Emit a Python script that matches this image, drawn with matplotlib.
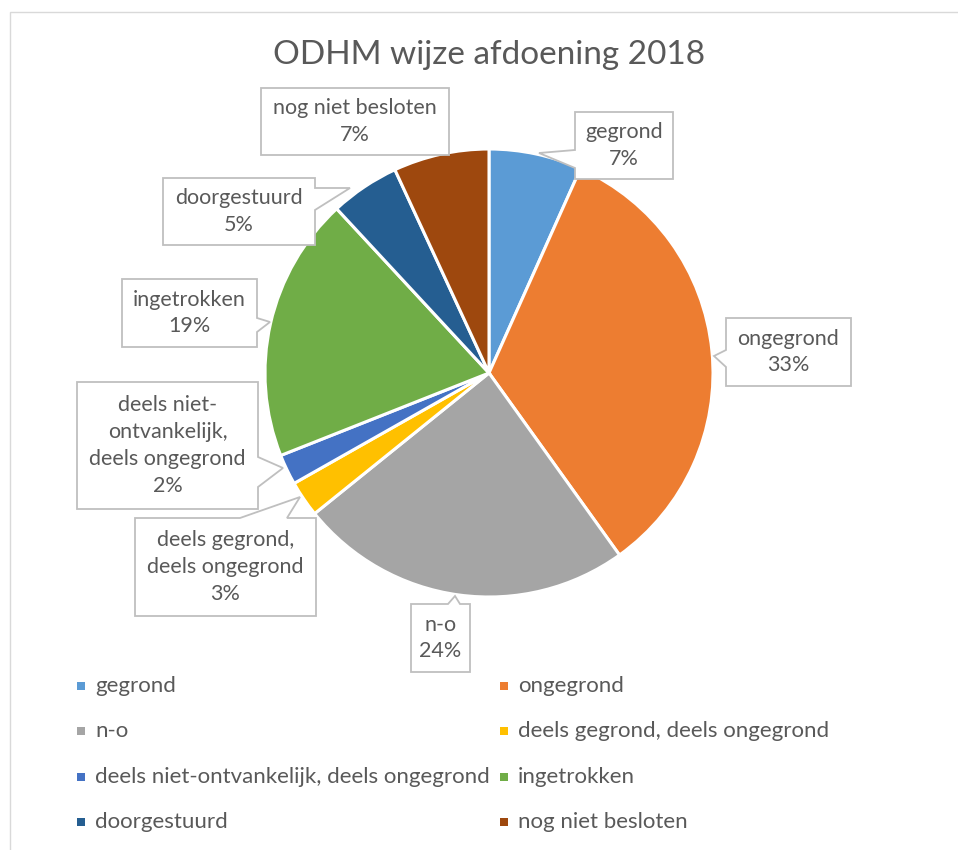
# Pie chart: ODHM wijze afdoening 2018

import matplotlib
matplotlib.use("Agg")
import matplotlib.pyplot as plt
from matplotlib.patches import Polygon, Rectangle

# data (share in percent)
categories = ['gegrond', 'ongegrond', 'n-o', 'deels gegrond, deels ongegrond',
              'deels niet-ontvankelijk, deels ongegrond', 'ingetrokken',
              'doorgestuurd', 'nog niet besloten']
label_names = ['gegrond', 'ongegrond', 'n-o', 'deels gegrond,\ndeels ongegrond',
               'deels niet-\nontvankelijk,\ndeels ongegrond', 'ingetrokken',
               'doorgestuurd', 'nog niet besloten']
values = [6.7, 33.4, 24.1, 2.6, 2.2, 19.1, 5.0, 6.9]
colors = ['#5B9BD5', '#ED7D31', '#A5A5A5', '#FFC000',
          '#4472C4', '#70AD47', '#255E91', '#9E480E']

W, H = 958, 850
TXT = '#595959'
EDGE = '#BFBFBF'
FONT = ['Lato', 'DejaVu Sans']


def py(y):
    # picture y (from top) to axes y (from bottom)
    return H - y


# callout boxes: (left, top, right, bottom, side, base1, base2, tip)
# side tells which edge the pointer leaves from
callouts = [
    (575, 112, 673, 179, 'left', 150, 168, (539, 153)),
    (726, 318, 851, 386, 'left', 350, 367, (714, 356)),
    (411, 604, 470, 672, 'top', 448, 460, (455, 596)),
    (135, 518, 316, 616, 'top', 240, 287, (300, 497)),
    (77, 382, 258, 509, 'right', 457, 487, (283, 468)),
    (122, 279, 257, 347, 'right', 318, 332, (270, 322)),
    (163, 178, 315, 245, 'right', 188, 210, (350, 188)),
    (261, 88, 449, 155, None, 0, 0, None),
]


def callout_polygon(box):
    x0, y0, x1, y1, side, b1, b2, tip = box
    pts = [(x0, y0)]
    if side == 'top':
        pts += [(b1, y0), tip, (b2, y0)]
    pts.append((x1, y0))
    if side == 'right':
        pts += [(x1, b1), tip, (x1, b2)]
    pts.append((x1, y1))
    pts.append((x0, y1))
    if side == 'left':
        pts += [(x0, b2), tip, (x0, b1)]
    return [(x, py(y)) for x, y in pts]


def main():
    fig = plt.figure(figsize=(W / 100, H / 100), dpi=100)
    ax = fig.add_axes([0, 0, 1, 1])

    # chart frame
    ax.add_patch(Rectangle((10, py(H + 20)), W + 20, H + 8, fill=False,
                           edgecolor='#D9D9D9', linewidth=1.0))

    ax.text(489, py(55), 'ODHM wijze afdoening 2018', ha='center', va='center',
            fontsize=24, color=TXT, family=FONT)

    ax.pie(values, colors=colors, startangle=90, counterclock=False,
           center=(489, py(373)), radius=224, frame=True,
           wedgeprops={'edgecolor': 'white', 'linewidth': 2.2})
    ax.set_xlim(0, W)
    ax.set_ylim(0, H)
    ax.set_aspect('equal')
    ax.axis('off')

    for name, v, box in zip(label_names, values, callouts):
        ax.add_patch(Polygon(callout_polygon(box), closed=True, facecolor='white',
                             edgecolor=EDGE, linewidth=1.3, zorder=5))
        cx = (box[0] + box[2]) / 2
        cy = (box[1] + box[3]) / 2
        ax.text(cx, py(cy), name + '\n' + str(int(v + 0.5)) + '%', ha='center',
                va='center', fontsize=15.5, color=TXT, family=FONT,
                linespacing=1.42, zorder=6)

    # legend, two columns
    for i, (name, c) in enumerate(zip(categories, colors)):
        col = i % 2
        row = i // 2
        x = 77 + col * 423
        y = 686 + row * 45.3
        ax.add_patch(Rectangle((x, py(y) - 4), 8, 8, facecolor=c, edgecolor='none'))
        ax.text(x + 18, py(y), name, ha='left', va='center', fontsize=16,
                color=TXT, family=FONT)

    fig.savefig('out.png', dpi=100)


if __name__ == '__main__':
    main()
